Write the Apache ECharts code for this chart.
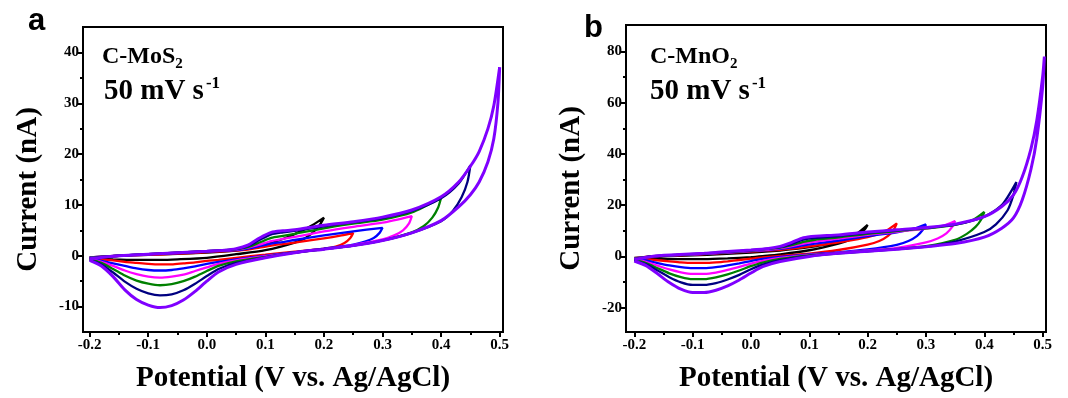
<!DOCTYPE html>
<html><head><meta charset="utf-8">
<script src="https://cdn.jsdelivr.net/npm/echarts@6/dist/echarts.min.js"></script>
<style>html,body{margin:0;padding:0;background:#fff}#c{width:1068px;height:398px}</style>
</head><body><div id="c"></div>
<script>
// ---- tick labels ----
const xTicks = [-0.2,-0.1,0.0,0.1,0.2,0.3,0.4,0.5];
const xMinorTicks = [-0.15,-0.05,0.05,0.15,0.25,0.35,0.45];
const yTicksA = [-10,0,10,20,30,40];
const yMinorA = [-5,5,15,25,35];
const yTicksB = [-20,0,20,40,60,80];
const yMinorB = [-10,10,30,50,70];
const seriesNames = ['0.20 V','0.25 V','0.30 V','0.35 V','0.40 V','0.45 V','0.50 V'];
const seriesColors = ['#000000','#ff0000','#0000ff','#ff00ff','#008000','#000080','#7f00ff'];

// ---- panel a : C-MoS2, [potential V, current nA] ----
const a_black_fwd = [[-0.2,-0.3],[-0.1,0.2],[0,0.6],[0.05,1.0],[0.08,1.6],[0.1,2.2],[0.13,3.3],[0.16,4.8],[0.18,6.0],[0.2,7.5]];
const a_black_rev = [[0.2,7.5],[0.19,5.6],[0.17,3.6],[0.15,2.6],[0.1,1.1],[0.05,0.3],[0,-0.4],[-0.05,-0.7],[-0.08,-0.8],[-0.12,-0.8],[-0.16,-0.7],[-0.2,-0.5]];
const a_red_fwd = [[-0.2,-0.3],[-0.15,0.0],[-0.1,0.2],[-0.05,0.4],[0,0.7],[0.05,1.0],[0.07,1.2],[0.09,1.6],[0.11,2.0],[0.13,2.3],[0.15,2.6],[0.2,3.4],[0.23,4.0],[0.25,4.5]];
const a_red_rev = [[0.25,4.5],[0.245,3.5],[0.235,2.5],[0.22,1.8],[0.2,1.4],[0.15,0.8],[0.1,0.2],[0.05,-0.4],[0.02,-0.8],[0,-1.0],[-0.02,-1.3],[-0.04,-1.5],[-0.06,-1.7],[-0.08,-1.7],[-0.1,-1.6],[-0.12,-1.4],[-0.14,-1.2],[-0.16,-0.9],[-0.18,-0.7],[-0.2,-0.4]];
const a_blue_fwd = [[-0.2,-0.3],[-0.15,0.0],[-0.1,0.3],[-0.05,0.5],[0,0.8],[0.03,1.0],[0.05,1.1],[0.07,1.4],[0.09,1.9],[0.11,2.4],[0.13,2.7],[0.15,3.1],[0.2,4.0],[0.25,4.8],[0.3,5.5]];
const a_blue_rev = [[0.3,5.5],[0.295,4.5],[0.285,3.5],[0.27,2.8],[0.25,2.2],[0.2,1.4],[0.15,0.7],[0.1,0.0],[0.05,-0.7],[0.02,-1.2],[0,-1.6],[-0.02,-2.1],[-0.04,-2.5],[-0.06,-2.8],[-0.08,-2.9],[-0.1,-2.8],[-0.12,-2.5],[-0.14,-2.0],[-0.16,-1.5],[-0.18,-1.0],[-0.2,-0.5]];
const a_magenta_fwd = [[-0.2,-0.4],[-0.15,0.0],[-0.1,0.3],[-0.05,0.6],[0,0.9],[0.03,1.0],[0.05,1.2],[0.07,1.6],[0.09,2.2],[0.11,2.9],[0.13,3.3],[0.15,3.7],[0.2,4.8],[0.25,5.7],[0.3,6.5],[0.35,7.8]];
const a_magenta_rev = [[0.35,7.8],[0.345,6.3],[0.335,5.0],[0.32,4.0],[0.3,3.2],[0.25,2.1],[0.2,1.3],[0.15,0.6],[0.1,-0.1],[0.05,-0.9],[0.02,-1.6],[0,-2.3],[-0.02,-3.0],[-0.04,-3.7],[-0.06,-4.1],[-0.08,-4.3],[-0.1,-4.1],[-0.12,-3.6],[-0.14,-2.9],[-0.16,-2.0],[-0.18,-1.2],[-0.2,-0.6]];
const a_green_fwd = [[-0.2,-0.4],[-0.15,0.0],[-0.1,0.3],[-0.05,0.6],[0,0.9],[0.03,1.1],[0.05,1.3],[0.07,1.7],[0.09,2.6],[0.11,3.5],[0.13,3.9],[0.15,4.3],[0.2,5.4],[0.25,6.3],[0.3,7.1],[0.35,8.5],[0.4,11.4]];
const a_green_rev = [[0.4,11.4],[0.395,9.5],[0.385,7.5],[0.37,5.8],[0.35,4.6],[0.3,3.0],[0.25,2.0],[0.2,1.3],[0.15,0.6],[0.1,-0.2],[0.05,-1.1],[0.02,-2.0],[0,-3.0],[-0.02,-4.1],[-0.04,-5.0],[-0.06,-5.6],[-0.08,-5.8],[-0.1,-5.5],[-0.12,-4.9],[-0.14,-3.9],[-0.16,-2.6],[-0.18,-1.4],[-0.2,-0.7]];
const a_navy_fwd = [[-0.2,-0.5],[-0.15,0.0],[-0.1,0.3],[-0.05,0.6],[0,0.9],[0.03,1.1],[0.05,1.3],[0.07,1.9],[0.09,3.1],[0.11,4.2],[0.13,4.6],[0.15,4.9],[0.2,5.8],[0.25,6.6],[0.3,7.4],[0.35,8.8],[0.4,11.3],[0.43,14.2],[0.45,17.8]];
const a_navy_rev = [[0.45,17.8],[0.445,14.5],[0.435,11.5],[0.42,8.8],[0.4,6.8],[0.35,4.5],[0.3,3.0],[0.25,2.0],[0.2,1.3],[0.15,0.6],[0.1,-0.3],[0.05,-1.4],[0.02,-2.6],[0,-4.0],[-0.02,-5.5],[-0.04,-6.8],[-0.06,-7.6],[-0.08,-7.8],[-0.1,-7.4],[-0.12,-6.5],[-0.14,-5.1],[-0.16,-3.3],[-0.18,-1.7],[-0.2,-0.8]];
const a_purple_fwd = [[-0.2,-0.6],[-0.17,-0.2],[-0.15,0.0],[-0.1,0.3],[-0.05,0.6],[0,0.9],[0.03,1.1],[0.05,1.4],[0.07,2.1],[0.09,3.5],[0.11,4.6],[0.13,4.9],[0.15,5.1],[0.2,6.0],[0.25,6.7],[0.3,7.6],[0.35,9.0],[0.4,11.6],[0.43,14.5],[0.45,17.6],[0.465,20.5],[0.48,25],[0.49,29.5],[0.5,37.1]];
const a_purple_rev = [[0.5,37.1],[0.497,30],[0.49,23],[0.48,18.5],[0.465,14.5],[0.45,12.0],[0.43,9.6],[0.4,6.9],[0.35,4.5],[0.3,3.0],[0.25,2.0],[0.2,1.3],[0.15,0.6],[0.1,-0.4],[0.05,-1.7],[0.02,-3.2],[0,-5.0],[-0.02,-7.0],[-0.04,-8.7],[-0.06,-9.8],[-0.08,-10.2],[-0.1,-9.7],[-0.12,-8.6],[-0.14,-6.7],[-0.16,-4.1],[-0.18,-2.0],[-0.2,-0.9]];

// ---- panel b : C-MnO2 ----
const b_black_fwd = [[-0.2,-0.6],[-0.15,0.0],[-0.1,0.4],[-0.05,0.9],[0,1.5],[0.05,2.3],[0.08,3.0],[0.1,3.6],[0.13,4.8],[0.16,6.6],[0.18,8.6],[0.2,12.3]];
const b_black_rev = [[0.2,12.3],[0.195,10.5],[0.185,8.4],[0.17,6.5],[0.15,5.0],[0.1,2.4],[0.05,0.8],[0.02,0.1],[0,-0.3],[-0.04,-0.8],[-0.08,-1.1],[-0.12,-1.1],[-0.16,-0.9],[-0.2,-0.6]];
const b_red_fwd = [[-0.2,-0.7],[-0.17,0.0],[-0.13,0.4],[-0.08,0.9],[-0.04,1.4],[0,1.9],[0.05,2.6],[0.07,3.0],[0.09,3.6],[0.11,4.2],[0.15,5.5],[0.2,7.5],[0.23,9.8],[0.25,12.9]];
const b_red_rev = [[0.25,12.9],[0.245,10.5],[0.235,8.0],[0.22,6.0],[0.2,4.6],[0.15,2.5],[0.1,1.1],[0.05,0.2],[0.02,-0.4],[0,-0.9],[-0.02,-1.4],[-0.04,-1.9],[-0.06,-2.3],[-0.08,-2.5],[-0.1,-2.5],[-0.12,-2.3],[-0.14,-1.9],[-0.16,-1.5],[-0.18,-1.1],[-0.2,-0.8]];
const b_blue_fwd = [[-0.2,-0.8],[-0.17,0.0],[-0.13,0.5],[-0.08,1.0],[-0.04,1.5],[0,2.1],[0.03,2.5],[0.05,2.9],[0.07,3.5],[0.09,4.3],[0.11,5.0],[0.15,6.2],[0.2,7.9],[0.25,9.4],[0.28,10.8],[0.3,12.5]];
const b_blue_rev = [[0.3,12.5],[0.295,10.5],[0.285,8.0],[0.27,6.0],[0.25,4.5],[0.2,2.7],[0.15,1.6],[0.1,0.8],[0.05,-0.2],[0.02,-1.0],[0,-1.8],[-0.02,-2.7],[-0.04,-3.5],[-0.06,-4.2],[-0.08,-4.6],[-0.1,-4.6],[-0.12,-4.2],[-0.14,-3.5],[-0.16,-2.6],[-0.18,-1.6],[-0.2,-1.0]];
const b_magenta_fwd = [[-0.2,-0.9],[-0.17,0.0],[-0.13,0.5],[-0.08,1.0],[-0.04,1.6],[0,2.2],[0.03,2.7],[0.05,3.2],[0.07,4.0],[0.09,5.0],[0.11,5.8],[0.15,6.9],[0.2,8.4],[0.25,9.6],[0.3,10.8],[0.33,12.0],[0.35,13.8]];
const b_magenta_rev = [[0.35,13.8],[0.345,11.5],[0.335,9.0],[0.32,7.0],[0.3,5.5],[0.25,3.3],[0.2,2.3],[0.15,1.4],[0.1,0.6],[0.05,-0.6],[0.02,-1.7],[0,-2.8],[-0.02,-4.1],[-0.04,-5.3],[-0.06,-6.3],[-0.08,-6.8],[-0.1,-6.8],[-0.12,-6.2],[-0.14,-5.1],[-0.16,-3.6],[-0.18,-2.1],[-0.2,-1.2]];
const b_green_fwd = [[-0.2,-1.0],[-0.17,0.0],[-0.13,0.5],[-0.08,1.1],[-0.04,1.7],[0,2.3],[0.03,2.9],[0.05,3.4],[0.07,4.4],[0.09,5.7],[0.11,6.5],[0.15,7.4],[0.2,8.8],[0.25,9.9],[0.3,10.9],[0.35,12.3],[0.38,14.2],[0.4,17.4]];
const b_green_rev = [[0.4,17.4],[0.395,14.5],[0.385,11.5],[0.37,8.8],[0.35,6.5],[0.3,4.0],[0.25,2.9],[0.2,2.1],[0.15,1.3],[0.1,0.4],[0.05,-1.0],[0.02,-2.4],[0,-3.8],[-0.02,-5.5],[-0.04,-7.0],[-0.06,-8.2],[-0.08,-8.9],[-0.1,-8.9],[-0.12,-8.1],[-0.14,-6.6],[-0.16,-4.6],[-0.18,-2.6],[-0.2,-1.4]];
const b_navy_fwd = [[-0.2,-1.1],[-0.17,0.0],[-0.13,0.6],[-0.08,1.2],[-0.04,1.8],[0,2.4],[0.03,3.0],[0.05,3.6],[0.07,4.9],[0.09,6.5],[0.11,7.2],[0.15,7.9],[0.2,9.2],[0.25,10.2],[0.3,11.1],[0.35,12.4],[0.4,15.5],[0.43,20],[0.455,29]];
const b_navy_rev = [[0.455,29],[0.45,24],[0.44,18],[0.42,12.5],[0.4,9.5],[0.35,5.8],[0.3,3.8],[0.25,2.8],[0.2,2.0],[0.15,1.2],[0.1,0.2],[0.05,-1.5],[0.02,-3.2],[0,-5.0],[-0.02,-7.2],[-0.04,-9.0],[-0.06,-10.4],[-0.08,-11.1],[-0.1,-11.1],[-0.12,-10.1],[-0.14,-8.1],[-0.16,-5.5],[-0.18,-3.0],[-0.2,-1.6]];
const b_purple_fwd = [[-0.2,-1.2],[-0.17,0.0],[-0.13,0.6],[-0.08,1.2],[-0.04,1.9],[0,2.5],[0.03,3.1],[0.05,3.9],[0.07,5.5],[0.09,7.3],[0.11,7.9],[0.15,8.4],[0.2,9.5],[0.25,10.4],[0.3,11.3],[0.35,12.6],[0.4,15.5],[0.43,19.5],[0.45,24],[0.465,31],[0.48,42],[0.49,53],[0.5,70],[0.503,78]];
const b_purple_rev = [[0.503,78],[0.5,66],[0.49,46],[0.48,34],[0.465,22],[0.45,15],[0.43,11],[0.4,7.5],[0.35,5.0],[0.3,3.8],[0.25,2.8],[0.2,2.0],[0.15,1.2],[0.1,0.0],[0.05,-2.0],[0.02,-4.0],[0,-6.5],[-0.02,-9.2],[-0.04,-11.5],[-0.06,-13.2],[-0.08,-14.1],[-0.1,-14.1],[-0.12,-12.8],[-0.14,-10.2],[-0.16,-6.8],[-0.18,-3.6],[-0.2,-1.8]];

const panelA = [[a_black_fwd,a_black_rev],[a_red_fwd,a_red_rev],[a_blue_fwd,a_blue_rev],[a_magenta_fwd,a_magenta_rev],[a_green_fwd,a_green_rev],[a_navy_fwd,a_navy_rev],[a_purple_fwd,a_purple_rev]];
const panelB = [[b_black_fwd,b_black_rev],[b_red_fwd,b_red_rev],[b_blue_fwd,b_blue_rev],[b_magenta_fwd,b_magenta_rev],[b_green_fwd,b_green_rev],[b_navy_fwd,b_navy_rev],[b_purple_fwd,b_purple_rev]];

const SERIF = 'Liberation Serif';
const tickFont = {fontFamily: SERIF, fontWeight: 'bold', fontSize: 15, color: '#000'};
const nameFont = {fontFamily: SERIF, fontWeight: 'bold', fontSize: 29, color: '#000'};

function xAxes(grid, min, max) {
  return [
    {type:'value', gridIndex:grid, min:min, max:max, position:'bottom',
     axisLine:{show:true, onZero:false, lineStyle:{color:'#000', width:2}},
     axisTick:{show:true, length:5, lineStyle:{color:'#000', width:2}, customValues:xTicks},
     axisLabel:Object.assign({customValues:xTicks, margin:6, formatter:v=>v.toFixed(1)}, tickFont),
     splitLine:{show:false},
     name:'Potential (V vs. Ag/AgCl)', nameLocation:'middle', nameGap:32, nameTextStyle:nameFont},
    {type:'value', gridIndex:grid, min:min, max:max, position:'bottom',
     axisLine:{show:false, onZero:false}, axisLabel:{show:false, customValues:xMinorTicks},
     axisTick:{show:true, length:3, lineStyle:{color:'#000', width:2}, customValues:xMinorTicks},
     splitLine:{show:false}}
  ];
}
function yAxes(grid, min, max, ticks, minor) {
  return [
    {type:'value', gridIndex:grid, min:min, max:max, position:'left',
     axisLine:{show:true, onZero:false, lineStyle:{color:'#000', width:2}},
     axisTick:{show:true, length:5, lineStyle:{color:'#000', width:2}, customValues:ticks},
     axisLabel:Object.assign({customValues:ticks, margin:4}, tickFont),
     splitLine:{show:false},
     name:'Current (nA)', nameLocation:'middle', nameGap:40, nameTextStyle:Object.assign({padding:[0,20,0,0]}, nameFont)},
    {type:'value', gridIndex:grid, min:min, max:max, position:'left',
     axisLine:{show:false, onZero:false}, axisLabel:{show:false, customValues:minor},
     axisTick:{show:true, length:3, lineStyle:{color:'#000', width:2}, customValues:minor},
     splitLine:{show:false}}
  ];
}

function buildSeries(panel, xi, yi) {
  return panel.map((c, i) => ({
    type:'line', name:seriesNames[i], xAxisIndex:xi, yAxisIndex:yi,
    data:c[0].concat(c[1].slice(1)), showSymbol:false, symbol:'none', smooth:0.25,
    lineStyle:{color:seriesColors[i], width: i===6 ? 3 : 2.3}, itemStyle:{color:seriesColors[i]},
    z: 2 + i, animation:false
  }));
}

const richLbl = {
  m:{fontFamily:SERIF, fontSize:24, fontWeight:'bold', color:'#000', lineHeight:30},
  sub:{fontFamily:SERIF, fontSize:15, fontWeight:'bold', color:'#000', lineHeight:14, verticalAlign:'bottom'},
  big:{fontFamily:SERIF, fontSize:29, fontWeight:'bold', color:'#000', lineHeight:34},
  sup:{fontFamily:SERIF, fontSize:17, fontWeight:'bold', color:'#000', lineHeight:18, verticalAlign:'top', padding:[0,0,0,2]}
};
const letterFont = {fontFamily:'Liberation Sans', fontWeight:'bold', fontSize:31, color:'#000'};

const chart = echarts.init(document.getElementById('c'), null, {renderer:'canvas'});
chart.setOption({
  animation:false,
  backgroundColor:'#fff',
  grid:[
    {left:83, top:27, width:420, height:308, show:true, borderColor:'#000', borderWidth:2, containLabel:false},
    {left:626, top:25, width:420, height:308, show:true, borderColor:'#000', borderWidth:2, containLabel:false}
  ],
  xAxis: xAxes(0, -0.2114, 0.5057).concat(xAxes(1, -0.2142, 0.5058)),
  yAxis: yAxes(0, -15, 45, yTicksA, yMinorA).concat(yAxes(1, -29.5, 90.3, yTicksB, yMinorB)),
  title:[
    {text:'a', left:28, top:6, padding:0, textStyle:letterFont},
    {text:'b', left:584, top:13, padding:0, textStyle:letterFont},
    {text:'{m|C-MoS}{sub|2}', left:97, top:37, textStyle:{rich:richLbl}},
    {text:'{big|50 mV s}{sup|-1}', left:99, top:70, textStyle:{rich:richLbl}},
    {text:'{m|C-MnO}{sub|2}', left:645, top:37, textStyle:{rich:richLbl}},
    {text:'{big|50 mV s}{sup|-1}', left:645, top:70, textStyle:{rich:richLbl}}
  ],
  series: buildSeries(panelA, 0, 0).concat(buildSeries(panelB, 2, 2))
});
</script></body></html>
